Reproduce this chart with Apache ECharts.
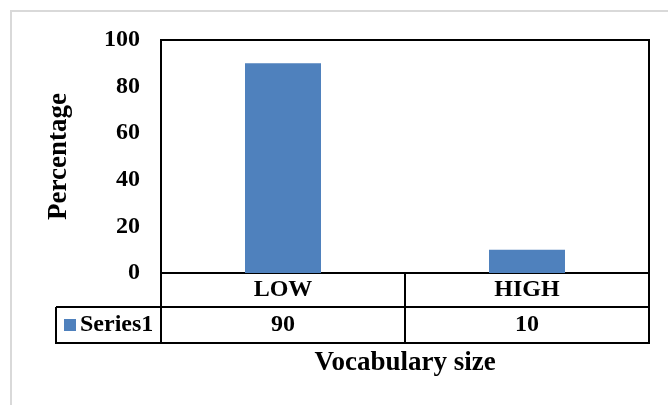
<!DOCTYPE html>
<html lang="en">
<head>
    <meta charset="utf-8" />
    <script src="https://cdn.jsdelivr.net/npm/echarts@6/dist/echarts.min.js"></script>
</head>
<body style="margin:0">

<div id="view1" style="height: 405px; width: 668px"></div>

<script>
    var categories = ["LOW", "HIGH"];
    var values = [90, 10];
    var seriesName = "Series1";
    var yTicks = { min: 0, max: 100, interval: 20 };

    var font = "'Liberation Serif', 'Times New Roman', serif";
    var barColor = "#4f81bd";

    window.onload = function(){
        var chart = echarts.init(document.getElementById("view1"));

        var option = {
            backgroundColor: "#fff",
            animation: false,
            grid: {
                left: 161, top: 40, right: 19, bottom: 132,
                show: true, borderColor: "#000", borderWidth: 2
            },
            legend: {
                data: [seriesName],
                left: 64, top: 313, padding: 0,
                itemWidth: 12, itemHeight: 12, itemGap: 4,
                icon: "rect",
                textStyle: { fontFamily: font, fontWeight: "bold", fontSize: 24, color: "#000", padding: [0, 0, 0, -1] }
            },
            xAxis: {
                type: "category",
                data: categories,
                name: "Vocabulary size",
                nameLocation: "middle",
                nameGap: 77,
                nameTextStyle: { fontFamily: font, fontWeight: "bold", fontSize: 27, color: "#000" },
                axisLine: { lineStyle: { color: "#000", width: 2 } },
                axisTick: { show: true, alignWithLabel: false, length: 70, lineStyle: { color: "#000", width: 2 } },
                axisLabel: {
                    margin: 0,
                    formatter: function(v, i){ return "{a|" + v + "}\n{b|" + values[i] + "}"; },
                    rich: {
                        a: { fontFamily: font, fontWeight: "bold", fontSize: 24, color: "#000", lineHeight: 34 },
                        b: { fontFamily: font, fontWeight: "bold", fontSize: 24, color: "#000", lineHeight: 36 }
                    }
                }
            },
            yAxis: {
                type: "value",
                min: yTicks.min, max: yTicks.max, interval: yTicks.interval,
                name: "Percentage",
                nameLocation: "middle",
                nameRotate: 90,
                nameGap: 88,
                nameTextStyle: { fontFamily: font, fontWeight: "bold", fontSize: 27, color: "#000" },
                axisLine: { show: false },
                axisTick: { show: false },
                splitLine: { show: false },
                axisLabel: { margin: 21, fontFamily: font, fontWeight: "bold", fontSize: 24, color: "#000" }
            },
            series: [{
                name: seriesName,
                type: "bar",
                data: values,
                barWidth: 76,
                itemStyle: { color: barColor }
            }],
            graphic: [
                // outer chart border
                { type: "rect", shape: { x: 11, y: 11, width: 700, height: 420 }, style: { fill: null, stroke: "#d9d9d9", lineWidth: 2 }, silent: true },
                // data table frame
                { type: "line", shape: { x1: 56, y1: 307, x2: 650, y2: 307 }, style: { stroke: "#000", lineWidth: 2 } },
                { type: "line", shape: { x1: 55, y1: 343, x2: 650, y2: 343 }, style: { stroke: "#000", lineWidth: 2 } },
                { type: "line", shape: { x1: 56, y1: 307, x2: 56, y2: 344 }, style: { stroke: "#000", lineWidth: 2 } }
            ]
        };

        chart.setOption(option);
    };
</script>

</body>
</html>
